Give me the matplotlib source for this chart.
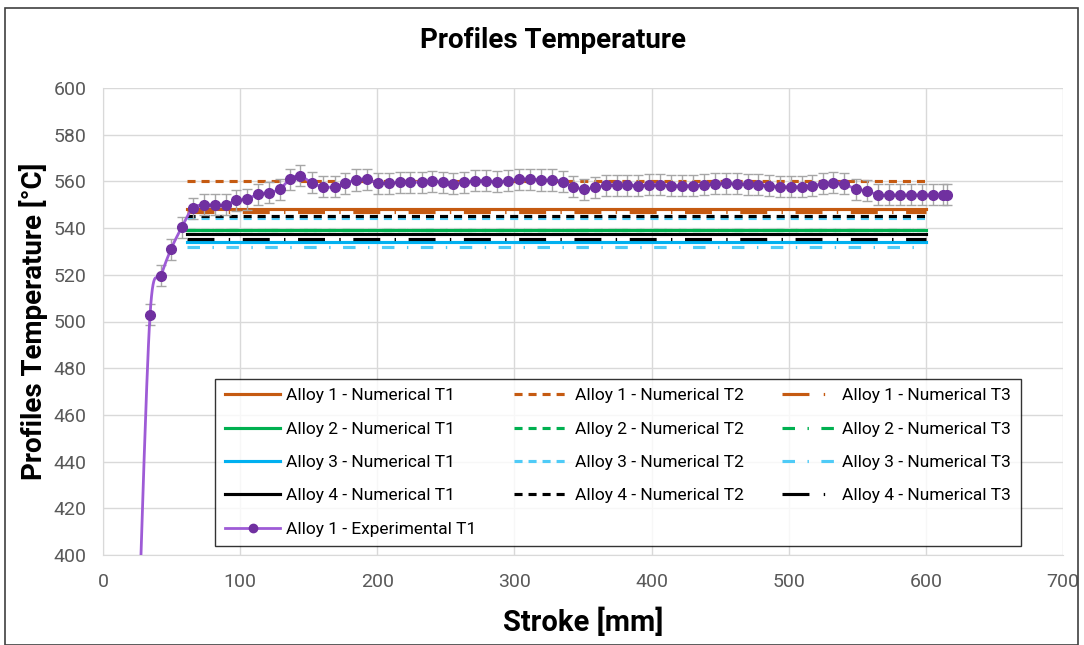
import matplotlib.pyplot as plt
import numpy as np

plt.rcParams['font.family'] = ['Roboto', 'DejaVu Sans']
plt.rcParams['lines.scale_dashes'] = False

# numerical profiles (flat lines between two stroke positions)
num_stroke = [61, 600]
alloy_names = ['Alloy 1', 'Alloy 2', 'Alloy 3', 'Alloy 4']
t1_values = [548.0, 539.0, 534.0, 537.5]
t2_values = [560.0, 539.0, 544.2, 545.0]
t3_values = [547.0, 539.0, 532.0, 535.4]
colors_solid = ['#C55A11', '#00B050', '#00B0F0', '#000000']
colors_t2 = ['#C55A11', '#00B050', '#4FCBF7', '#000000']
colors_t3 = ['#C55A11', '#00B050', '#4FCBF7', '#000000']

# experimental measurements, Alloy 1
stroke_exp = [26, 34.3, 42.3, 49.6, 57.4, 65.4, 73.6, 81.6, 89.4, 96.9,
              104.7, 113.0, 120.9, 128.9, 136.3, 143.7, 152.1, 160.5, 169.0, 176.4,
              184.4, 192.2, 200.2, 208.4, 216.5, 224.2, 232.3, 240.0, 247.7, 255.4,
              263.2, 271.3, 279.3, 287.1, 295.5, 303.6, 311.4, 319.4, 327.4, 335.2,
              342.9, 350.7, 358.8, 366.8, 374.6, 381.9, 390.3, 398.3, 406.2, 414.0,
              422.0, 430.0, 438.2, 446.3, 454.3, 462.1, 470.1, 477.8, 485.8, 493.6,
              501.5, 509.5, 517.2, 524.8, 532.5, 540.5, 548.8, 556.9, 565.3, 573.1,
              581.1, 589.0, 597.0, 605.0, 612.7, 615.2]
temp_exp = [370, 502.8, 519.5, 531.0, 540.3, 548.5, 549.9, 549.9, 549.9, 551.9,
            552.3, 554.6, 555.2, 556.7, 560.9, 562.4, 559.4, 557.7, 557.7, 559.2,
            560.6, 561.0, 559.2, 559.2, 559.6, 559.7, 559.7, 560.1, 559.6, 559.0,
            559.6, 560.3, 560.3, 559.9, 560.3, 561.0, 561.0, 560.6, 560.6, 559.9,
            557.7, 556.7, 557.4, 558.3, 558.3, 558.4, 558.2, 558.5, 558.5, 558.2,
            558.2, 558.2, 558.5, 558.9, 559.2, 558.9, 558.8, 558.5, 558.2, 557.7,
            557.7, 557.7, 558.2, 558.9, 559.4, 558.9, 556.7, 555.9, 554.2, 554.2,
            554.2, 554.2, 554.2, 554.2, 554.2, 554.2]
temp_err = 4.5


def smooth(x, y, n=16):
    # excel-like smoothed line (bezier through the points)
    x = np.asarray(x, float)
    y = np.asarray(y, float)
    xs, ys = [], []
    for i in range(len(x) - 1):
        p0 = (x[max(i - 1, 0)], y[max(i - 1, 0)])
        p1 = (x[i], y[i])
        p2 = (x[i + 1], y[i + 1])
        p3 = (x[min(i + 2, len(x) - 1)], y[min(i + 2, len(x) - 1)])
        c1 = (p1[0] + (p2[0] - p0[0]) / 6, p1[1] + (p2[1] - p0[1]) / 6)
        c2 = (p2[0] - (p3[0] - p1[0]) / 6, p2[1] - (p3[1] - p1[1]) / 6)
        t = np.linspace(0, 1, n)
        for k in range(2):
            pts = [p1[k], c1[k], c2[k], p2[k]]
            v = ((1 - t) ** 3 * pts[0] + 3 * (1 - t) ** 2 * t * pts[1]
                 + 3 * (1 - t) * t ** 2 * pts[2] + t ** 3 * pts[3])
            (xs if k == 0 else ys).append(v)
    return np.concatenate(xs), np.concatenate(ys)


fig = plt.figure(figsize=(10.84, 6.45), dpi=100)
ax = fig.add_axes([103 / 1084, 1 - 555 / 645, 960 / 1084, 467 / 645])

fig.patches.append(plt.Rectangle((5 / 1084, 0), 1073 / 1084, 637 / 645,
                                 transform=fig.transFigure, fill=False,
                                 edgecolor='#404040', lw=1.2))

ls_t2 = (0, (5.8, 4.3))
ls_t3_long = (0, (19.4, 10.3, 1.0, 9.1))
ls_t3_short = (0, (9.0, 9.0, 1.0, 9.0))
lw = 2.25

handles = {}
for i, name in enumerate(alloy_names):
    h1, = ax.plot(num_stroke, [t1_values[i]] * 2, color=colors_solid[i], lw=lw,
                  label=f'{name} - Numerical T1')
    h2, = ax.plot(num_stroke, [t2_values[i]] * 2, color=colors_t2[i], lw=lw,
                  linestyle=ls_t2, label=f'{name} - Numerical T2')
    ls3 = ls_t3_long if i in (0, 3) else ls_t3_short
    h3, = ax.plot(num_stroke, [t3_values[i]] * 2, color=colors_t3[i], lw=lw,
                  linestyle=ls3, label=f'{name} - Numerical T3')
    handles[i] = (h1, h2, h3)

ax.errorbar(stroke_exp, temp_exp, yerr=temp_err, fmt='none', ecolor='#A6A6A6',
            elinewidth=1.0, capsize=3.5, capthick=1.0, zorder=3)
sx, sy = smooth(stroke_exp, temp_exp)
ax.plot(sx, sy, color='#9E5BD6', lw=2.0, zorder=4)
ax.plot(stroke_exp, temp_exp, 'o', color='#7030A0', ms=7, zorder=5)
h_exp, = ax.plot([], [], color='#9E5BD6', lw=2.0, marker='o', markersize=6,
                 markerfacecolor='#7030A0', markeredgecolor='#7030A0',
                 label='Alloy 1 - Experimental T1')

ax.set_xlim(0, 700)
ax.set_ylim(400, 600)
ax.set_xticks(np.arange(0, 701, 100))
ax.set_yticks(np.arange(400, 601, 20))
ax.grid(True, color='#D9D9D9', lw=1.0)
ax.set_axisbelow(True)
for s in ax.spines.values():
    s.set_visible(False)
ax.spines['left'].set_visible(True)
ax.spines['bottom'].set_visible(True)
ax.spines['left'].set_color('#D9D9D9')
ax.spines['bottom'].set_color('#D9D9D9')
ax.tick_params(axis='y', length=0, labelsize=14, labelcolor='#595959', pad=12)
ax.tick_params(axis='x', length=0, labelsize=14, labelcolor='#595959', pad=13)

fig.text(553 / 1084, 1 - 41 / 645, 'Profiles Temperature', fontsize=20,
         fontweight='bold', ha='center', va='center')
ax.set_xlabel('Stroke [mm]', fontsize=21, fontweight='bold', labelpad=12)
ax.set_ylabel('Profiles Temperature [°C]', fontsize=20, fontweight='bold', labelpad=4)

order = [handles[i][0] for i in range(4)] + [h_exp] + \
        [handles[i][1] for i in range(4)] + [handles[i][2] for i in range(4)]
leg = ax.legend(handles=order, ncol=3, loc='center', mode='expand',
                bbox_to_anchor=(0.108, 0.0214, 0.857, 0.3533),
                fontsize=12.5, frameon=True, fancybox=False, handlelength=3.2,
                handletextpad=0.3, labelspacing=1.05, borderpad=0.55,
                columnspacing=1.5)
leg.get_frame().set_edgecolor('#000000')
leg.get_frame().set_linewidth(1.0)

fig.savefig('out.png', dpi=100)
